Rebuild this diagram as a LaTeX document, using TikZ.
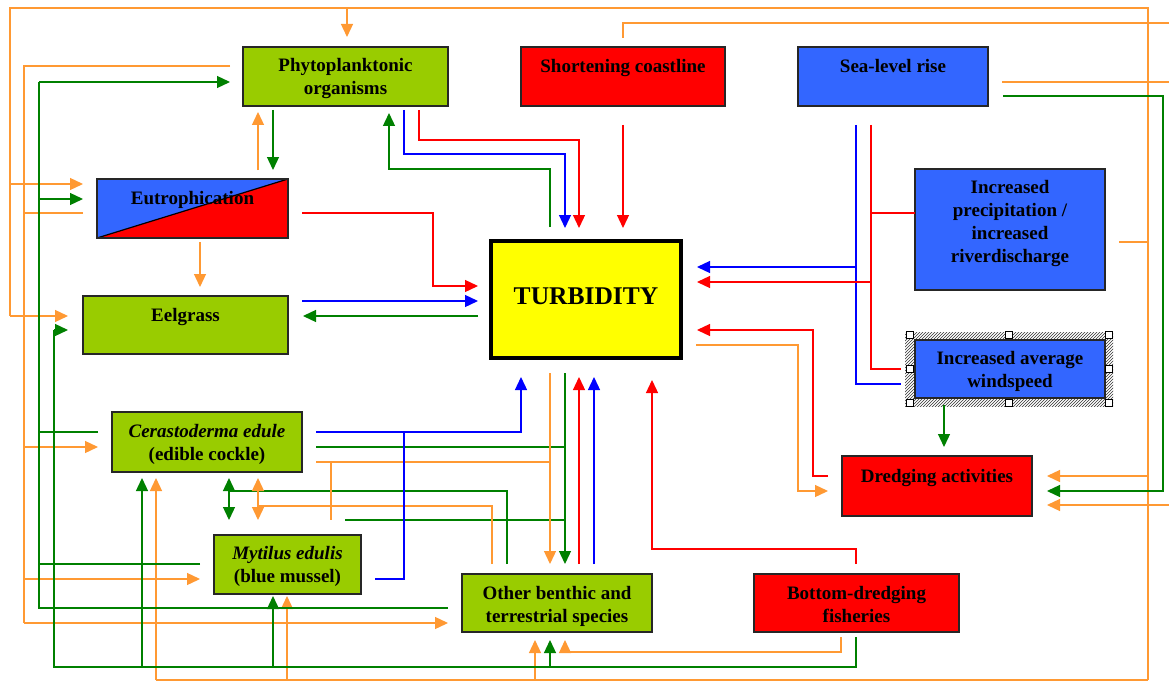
\documentclass[tikz,border=0pt]{standalone}
\usepackage{fontspec}
\setmainfont{Liberation Serif}
\usetikzlibrary{arrows.meta,calc,patterns}
\definecolor{gbox}{HTML}{99CC00}
\definecolor{rbox}{HTML}{FF0000}
\definecolor{bbox}{HTML}{3366FF}
\definecolor{ybox}{HTML}{FFFF00}
\definecolor{corg}{HTML}{FF9933}
\definecolor{cgrn}{HTML}{008000}
\definecolor{cblu}{HTML}{0000FF}
\definecolor{cred}{HTML}{FF0000}
\begin{document}
\begin{tikzpicture}[x=1pt,y=-1pt,
  box/.style={draw=black!85, line width=1.2pt, inner sep=0pt, outer sep=0pt},
  txt/.style={font=\bfseries\fontsize{19}{23}\selectfont, align=center, anchor=base, inner sep=0pt},
  ln/.style={line width=1.3pt},
  org/.style={ln, draw=corg},
  grn/.style={ln, draw=cgrn},
  blu/.style={ln, draw=cblu},
  rd/.style={ln, draw=cred},
  tip/.style={-{Triangle[length=13pt,width=12pt]}},
  tips/.style={{Triangle[length=13pt,width=12pt]}-{Triangle[length=13pt,width=12pt]}},
]
\useasboundingbox (0,0) rectangle (1169,682);
\fill[white] (0,0) rectangle (1169,682);
\clip (0,0) rectangle (1169,682);

% ---------- boxes ----------
\node[box, fill=gbox, minimum width=205pt, minimum height=59pt] (phy) at (345.5,76.5) {};
\node[box, fill=rbox, minimum width=204pt, minimum height=59pt] (shc) at (623,76.5) {};
\node[box, fill=bbox, minimum width=190pt, minimum height=59pt] (slr) at (893,76.5) {};
\node[box, draw=none, minimum width=191pt, minimum height=59pt] (eut) at (192.5,208.5) {};
\fill[bbox] (eut.north west) -- (eut.north east) -- (eut.south west) -- cycle;
\fill[rbox] (eut.north east) -- (eut.south east) -- (eut.south west) -- cycle;
\draw[line width=1.2pt] (eut.south west) -- (eut.north east);
\draw[draw=black!85, line width=1.2pt] (eut.north west) rectangle (eut.south east);
\node[box, fill=gbox, minimum width=205pt, minimum height=58pt] (eel) at (185.5,325) {};
\node[box, fill=ybox, draw=black, line width=4pt, minimum width=190pt, minimum height=117pt] (tur) at (586,299.5) {};
\node[box, fill=bbox, minimum width=190pt, minimum height=121pt] (pre) at (1010,229.5) {};
\fill[pattern=north east lines, pattern color=black!80] (905,332) rectangle (1113,406);
\node[box, fill=bbox, minimum width=190pt, minimum height=58pt] (wnd) at (1010,369) {};
\foreach \hx/\hy in {909.5/335, 1009/335, 1109/335, 909.5/369, 1109/369, 909.5/403, 1009/403, 1109/403}
  \draw[fill=white, line width=0.8pt] (\hx-3.5,\hy-3.5) rectangle (\hx+3.5,\hy+3.5);
\node[box, fill=rbox, minimum width=190pt, minimum height=60pt] (dre) at (937,486) {};
\node[box, fill=gbox, minimum width=190pt, minimum height=60pt] (cer) at (207,442) {};
\node[box, fill=gbox, minimum width=147pt, minimum height=59pt] (myt) at (287.5,564.5) {};
\node[box, fill=gbox, minimum width=190pt, minimum height=58pt] (oth) at (557,603) {};
\node[box, fill=rbox, minimum width=205pt, minimum height=58pt] (bot) at (856.5,603) {};

% ---------- texts (base anchor = baseline of the last line) ----------
\node[txt] (tphy) at (phy.center |- 0,95) {Phytoplanktonic\\organisms};
\node[txt] (tshc) at (shc.center |- 0,73) {Shortening coastline};
\node[txt] (tslr) at (slr.center |- 0,73) {Sea-level rise};
\node[txt] (teut) at (eut.center |- 0,204) {Eutrophication};
\node[txt] (teel) at (eel.center |- 0,321) {Eelgrass};
\node[txt, font=\bfseries\fontsize{25.5}{30}\selectfont] (ttur) at (tur.center |- 0,304) {TURBIDITY};
\node[txt] (tpre) at (pre.center |- 0,262) {Increased\\precipitation /\\increased\\riverdischarge};
\node[txt] (twnd) at (wnd.center |- 0,387) {Increased average\\windspeed};
\node[txt] (tdre) at (dre.center |- 0,482) {Dredging activities};
\node[txt] (tcer) at (cer.center |- 0,460) {\textit{Cerastoderma edule}\\(edible cockle)};
\node[txt] (tmyt) at (myt.center |- 0,582) {\textit{Mytilus edulis}\\(blue mussel)};
\node[txt] (toth) at (oth.center |- 0,622) {Other benthic and\\terrestrial species};
\node[txt] (tbot) at (bot.center |- 0,622) {Bottom-dredging\\fisheries};

% ---------- orange network from precipitation ----------
\draw[org, shorten <=14pt] (pre.east |- 0,242) -- (1148,242);
\draw[org] (1148,680) -- (1148,8) -| (10,316);
\draw[org, tip, shorten >=15pt] (10,316) -- (eel.west |- 0,316);
\draw[org, tip, shorten >=14pt] (10,184) -- (eut.west |- 0,184);
\draw[org, tip, shorten >=10pt] (347,8) -- (phy.north -| 347,0);
\draw[org] (1148,680) -- (156,680);
\draw[org, tip, shorten >=6pt] (156,680) -- (cer.south -| 156,0);
\draw[org, tip, shorten >=2pt] (287,680) -- (myt.south -| 287,0);
\draw[org, tip, shorten >=8pt] (535,680) -- (oth.south -| 535,0);
\draw[org, tip, shorten >=15pt] (1148,476) -- (dre.east |- 0,476);

% ---------- orange network from phyto / eutrophication ----------
\draw[org, shorten <=13pt] (phy.west |- 0,66) -| (24,623);
\draw[org, shorten <=14pt] (eut.west |- 0,213) -- (24,213);
\draw[org, tip, shorten >=14pt] (24,447) -- (cer.west |- 0,447);
\draw[org, tip, shorten >=14pt] (24,579) -- (myt.west |- 0,579);
\draw[org, tip, shorten >=14pt] (24,623) -- (oth.west |- 0,623);

% ---------- green network left ----------
\draw[grn, shorten <=14pt] (oth.west |- 0,608) -| (39,82);
\draw[grn, tip, shorten >=13pt] (39,82) -- (phy.west |- 0,82);
\draw[grn, tip, shorten >=14pt] (39,199) -- (eut.west |- 0,199);
\draw[grn, shorten <=14pt] (cer.west |- 0,432) -- (39,432);
\draw[grn, shorten <=14pt] (myt.west |- 0,564) -- (39,564);

% ---------- green network from bottom-dredging ----------
\draw[grn, shorten <=5pt] (bot.south -| 856,0) |- (54,667) -- (54,330);
\draw[grn, tip, shorten >=15pt] (54,330) -- (eel.west |- 0,330);
\draw[grn, tip, shorten >=6pt] (142,667) -- (cer.south -| 142,0);
\draw[grn, tip, shorten >=2pt] (273,667) -- (myt.south -| 273,0);
\draw[grn, tip, shorten >=8pt] (550,667) -- (oth.south -| 550,0);

% ---------- other green ----------
\draw[grn, tip, shorten <=15pt, shorten >=15pt] (slr.east |- 0,96) -| (1163,491) -- (dre.east |- 0,491);
\draw[grn, tip, shorten <=7pt, shorten >=9pt] (wnd.south -| 944,0) -- (dre.north -| 944,0);
\draw[grn, tip, shorten <=4pt, shorten >=9pt] (phy.south -| 273,0) -- (eut.north -| 273,0);
\draw[grn, tip, shorten <=14pt, shorten >=7pt] (tur.north -| 550,0) |- (389,169) -- (phy.south -| 389,0);
\draw[grn, tip, shorten <=13pt, shorten >=15pt] (tur.west |- 0,316) -- (eel.east |- 0,316);
\draw[grn, tip, shorten <=15pt, shorten >=10pt] (tur.south -| 565,0) -- (oth.north -| 565,0);
\draw[grn, shorten <=14pt] (cer.east |- 0,447) -- (565,447);
\draw[grn] ($(myt.north -| 345,0)+(0,-15)$) -- (565,520);
\draw[grn, shorten <=10pt] (oth.north -| 507,0) |- (229,491);
\draw[grn, tips, shorten <=6pt, shorten >=15pt] (cer.south -| 229,0) -- (myt.north -| 229,0);

% ---------- other orange ----------
\draw[org, tip, shorten <=9pt, shorten >=6pt] (eut.north -| 258,0) -- (phy.south -| 258,0);
\draw[org, tip, shorten <=4pt, shorten >=9pt] (eut.south -| 200,0) -- (eel.north -| 200,0);
\draw[org, shorten <=9pt] (shc.north -| 623,0) |- (1180,23);
\draw[org, shorten <=14pt] (slr.east |- 0,82) -- (1180,82);
\draw[org, tip, shorten >=15pt] (1180,505) -- (dre.east |- 0,505);
\draw[org, tip, shorten <=15pt, shorten >=14pt] (tur.east |- 0,345) -| (798,491) -- (dre.west |- 0,491);
\draw[org, tip, shorten <=15pt, shorten >=10pt] (tur.south -| 550,0) -- (oth.north -| 550,0);
\draw[org, shorten <=14pt] (cer.east |- 0,462) -- (550,462);
\draw[org] (331,462) -- ($(myt.north -| 331,0)+(0,-15)$);
\draw[org, shorten <=10pt] (oth.north -| 492,0) |- (258,506);
\draw[org, tips, shorten <=6pt, shorten >=15pt] (cer.south -| 258,0) -- (myt.north -| 258,0);
\draw[org, tip, shorten <=5pt, shorten >=8pt] (bot.south -| 841,0) |- (565,652) -- (oth.south -| 565,0);

% ---------- blue ----------
\draw[blu, tip, shorten <=4pt, shorten >=13pt] (phy.south -| 404,0) |- (565,154) -- (tur.north -| 565,0);
\draw[blu, tip, shorten <=14pt, shorten >=13pt] (eel.east |- 0,301) -- (tur.west |- 0,301);
\draw[blu, shorten <=19pt, shorten >=14pt] (slr.south -| 856,0) |- (wnd.west |- 0,384);
\draw[blu, tip, shorten >=16pt] (856,267) -- (tur.east |- 0,267);
\draw[blu, tip, shorten <=14pt, shorten >=19pt] (cer.east |- 0,432) -| (tur.south -| 521,0);
\draw[blu, shorten <=14pt] (myt.east |- 0,579) -| (404,432);
\draw[blu, tip, shorten <=10pt, shorten >=19pt] (oth.north -| 594,0) -- (tur.south -| 594,0);

% ---------- red ----------
\draw[rd, tip, shorten <=4pt, shorten >=13pt] (phy.south -| 419,0) |- (579,140) -- (tur.north -| 579,0);
\draw[rd, tip, shorten <=19pt, shorten >=13pt] (shc.south -| 623,0) -- (tur.north -| 623,0);
\draw[rd, tip, shorten <=14pt, shorten >=13pt] (eut.east |- 0,213) -| (433,286) -- (tur.west |- 0,286);
\draw[rd, shorten <=19pt, shorten >=14pt] (slr.south -| 871,0) |- (wnd.west |- 0,369);
\draw[rd] (871,213) -- (pre.west |- 0,213);
\draw[rd, tip, shorten >=16pt] (871,282) -- (tur.east |- 0,282);
\draw[rd, tip, shorten <=14pt, shorten >=16pt] (dre.west |- 0,476) -| (813,330) -- (tur.east |- 0,330);
\draw[rd, tip, shorten <=10pt, shorten >=22pt] (bot.north -| 856,0) |- (652,549) -- (tur.south -| 652,0);
\draw[rd, tip, shorten <=10pt, shorten >=19pt] (oth.north -| 579,0) -- (tur.south -| 579,0);
\end{tikzpicture}
\end{document}
